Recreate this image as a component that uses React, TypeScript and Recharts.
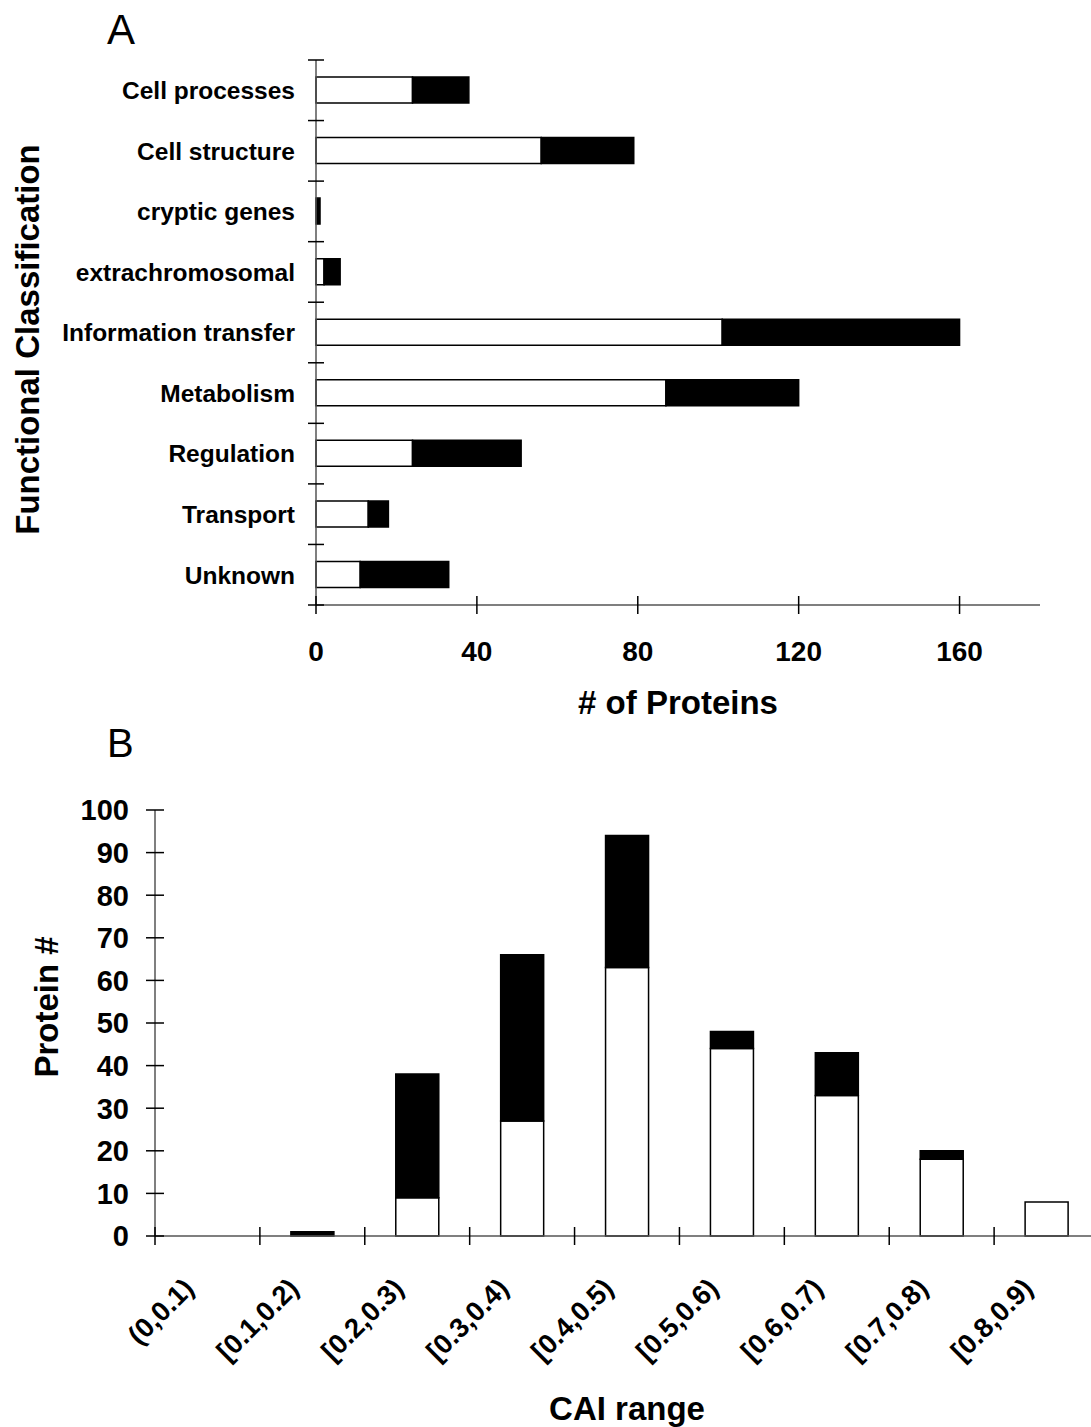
import { Bar, BarChart, Label, XAxis, YAxis } from 'recharts';

// Panel A: functional classes, white = first group, black = second group
const CLASSES = [
  'Cell processes',
  'Cell structure',
  'cryptic genes',
  'extrachromosomal',
  'Information transfer',
  'Metabolism',
  'Regulation',
  'Transport',
  'Unknown',
];
const CLASS_WHITE = [24, 56, 0, 2, 101, 87, 24, 13, 11];
const CLASS_BLACK = [14, 23, 1, 4, 59, 33, 27, 5, 22];
const PROTEIN_TICKS = [0, 40, 80, 120, 160];

// Panel B: CAI histogram
const CAI_RANGES = [
  '(0,0.1)',
  '[0.1,0.2)',
  '[0.2,0.3)',
  '[0.3,0.4)',
  '[0.4,0.5)',
  '[0.5,0.6)',
  '[0.6,0.7)',
  '[0.7,0.8)',
  '[0.8,0.9)',
];
const CAI_WHITE = [0, 0, 9, 27, 63, 44, 33, 18, 8];
const CAI_BLACK = [0, 1, 29, 39, 31, 4, 10, 2, 0];
const COUNT_TICKS = [0, 10, 20, 30, 40, 50, 60, 70, 80, 90, 100];

const FONT = "'Liberation Sans', Arial, Helvetica, sans-serif";
const INK = '#000';
const AXIS = '#555';

const rowsA = CLASSES.map((name, i) => ({ name, white: CLASS_WHITE[i], black: CLASS_BLACK[i] }));
const rowsB = CAI_RANGES.map((range, i) => ({ range, white: CAI_WHITE[i], black: CAI_BLACK[i] }));

/** Category label + boundary ticks (Excel style, ticks between categories). */
function ClassTick(props: any) {
  const { x, y, payload, index } = props;
  const half = payload?.offset ?? 30.3;
  return (
    <g>
      <line x1={x - 8} x2={x + 8} y1={y - half} y2={y - half} stroke={INK} strokeWidth={1.5} />
      {index === CLASSES.length - 1 && (
        <line x1={x - 8} x2={x + 8} y1={y + half} y2={y + half} stroke={INK} strokeWidth={1.5} />
      )}
      <text
        x={x - 21}
        y={y}
        dy="0.36em"
        textAnchor="end"
        fontFamily={FONT}
        fontWeight="bold"
        fontSize={24.5}
        fill={INK}
      >
        {payload.value}
      </text>
    </g>
  );
}

function ProteinTick(props: any) {
  const { x, y, payload } = props;
  return (
    <g>
      <line x1={x} x2={x} y1={y - 9} y2={y + 9} stroke={INK} strokeWidth={1.5} />
      <text x={x} y={y + 56} textAnchor="middle" fontFamily={FONT} fontWeight="bold" fontSize={28} fill={INK}>
        {payload.value}
      </text>
    </g>
  );
}

function RangeTick(props: any) {
  const { x, y, payload } = props;
  const half = payload?.offset ?? 52.4;
  const tx = x - 12;
  const ty = y + 54;
  return (
    <g>
      <line x1={x - half} x2={x - half} y1={y - 9} y2={y + 9} stroke={INK} strokeWidth={1.5} />
      <text
        x={tx}
        y={ty}
        textAnchor="end"
        transform={`rotate(-45, ${tx}, ${ty})`}
        fontFamily={FONT}
        fontWeight="bold"
        fontSize={27.5}
        fill={INK}
      >
        {payload.value}
      </text>
    </g>
  );
}

function CountTick(props: any) {
  const { x, y, payload } = props;
  return (
    <g>
      <line x1={x - 9} x2={x + 9} y1={y} y2={y} stroke={INK} strokeWidth={1.5} />
      <text x={x - 26} y={y} dy="0.36em" textAnchor="end" fontFamily={FONT} fontWeight="bold" fontSize={29} fill={INK}>
        {payload.value}
      </text>
    </g>
  );
}

function hTitle(text: string, dy: number) {
  return (p: any) => {
    const vb = p.viewBox;
    return (
      <text
        x={vb.x + vb.width / 2}
        y={vb.y + dy}
        textAnchor="middle"
        fontFamily={FONT}
        fontWeight="bold"
        fontSize={33}
        fill={INK}
      >
        {text}
      </text>
    );
  };
}

function vTitle(text: string, baseX: number, shiftY: number) {
  return (p: any) => {
    const vb = p.viewBox;
    const cx = vb.x + baseX;
    const cy = vb.y + vb.height / 2 + shiftY;
    return (
      <text
        x={cx}
        y={cy}
        textAnchor="middle"
        transform={`rotate(-90, ${cx}, ${cy})`}
        fontFamily={FONT}
        fontWeight="bold"
        fontSize={33}
        fill={INK}
      >
        {text}
      </text>
    );
  };
}

const panelLetter = (top: number, size: number): React.CSSProperties => ({
  position: 'absolute',
  left: 107,
  top,
  fontFamily: FONT,
  fontSize: size,
  lineHeight: 1,
  color: INK,
});

export default function App() {
  const axisLine = { stroke: AXIS, strokeWidth: 1.5 };
  return (
    <div
      style={{
        position: 'absolute',
        left: 0,
        top: 0,
        width: 1091,
        height: 1427,
        overflow: 'hidden',
        background: '#fff',
      }}
    >
      <div style={panelLetter(9, 42)}>A</div>
      <div style={panelLetter(723, 40)}>B</div>

      <div style={{ position: 'absolute', left: 0, top: 0 }}>
        <BarChart
          layout="vertical"
          width={1091}
          height={720}
          data={rowsA}
          margin={{ top: 60, right: 51, bottom: 15, left: 0 }}
          barSize={26}
        >
          <XAxis
            type="number"
            domain={[0, 180]}
            ticks={PROTEIN_TICKS}
            tick={<ProteinTick />}
            tickLine={false}
            tickSize={0}
            tickMargin={0}
            axisLine={axisLine}
            height={100}
          >
            <Label content={hTitle('# of Proteins', 109)} />
          </XAxis>
          <YAxis
            type="category"
            dataKey="name"
            width={316}
            interval={0}
            tick={<ClassTick />}
            tickLine={false}
            tickSize={0}
            tickMargin={0}
            axisLine={axisLine}
          >
            <Label content={vTitle('Functional Classification', 39, 7)} />
          </YAxis>
          <Bar dataKey="white" stackId="a" fill="#fff" stroke={INK} strokeWidth={1.5} isAnimationActive={false} />
          <Bar dataKey="black" stackId="a" fill="#000" stroke={INK} strokeWidth={1.5} isAnimationActive={false} />
        </BarChart>
      </div>

      <div style={{ position: 'absolute', left: 0, top: 720 }}>
        <BarChart
          width={1100}
          height={707}
          data={rowsB}
          margin={{ top: 90, right: 1, bottom: 0, left: 0 }}
          barSize={43}
        >
          <XAxis
            dataKey="range"
            interval={0}
            tick={<RangeTick />}
            tickLine={false}
            tickSize={0}
            tickMargin={0}
            axisLine={axisLine}
            height={191}
          >
            <Label content={hTitle('CAI range', 184)} />
          </XAxis>
          <YAxis
            type="number"
            domain={[0, 100]}
            ticks={COUNT_TICKS}
            interval={0}
            width={155}
            tick={<CountTick />}
            tickLine={false}
            tickSize={0}
            tickMargin={0}
            axisLine={axisLine}
          >
            <Label content={vTitle('Protein #', 58, -16)} />
          </YAxis>
          <Bar dataKey="white" stackId="b" fill="#fff" stroke={INK} strokeWidth={1.5} isAnimationActive={false} />
          <Bar dataKey="black" stackId="b" fill="#000" stroke={INK} strokeWidth={1.5} isAnimationActive={false} />
        </BarChart>
      </div>
    </div>
  );
}
